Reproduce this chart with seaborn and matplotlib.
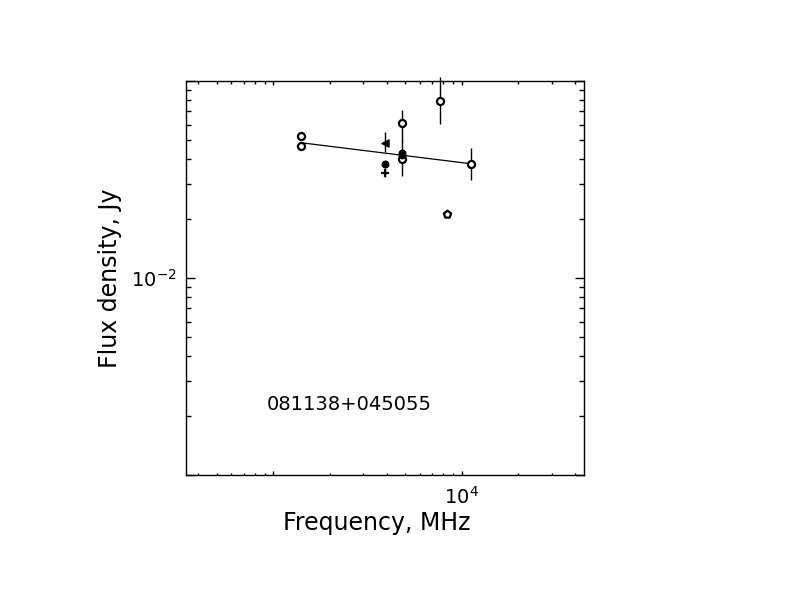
import numpy as np
import pandas as pd
import seaborn as sns
import matplotlib.pyplot as plt

# spectrum points
freq = [1400, 1400, 3900, 3900, 3900, 4850, 4850, 4850, 4850, 7700, 8400, 11200]
flux = [0.0526, 0.0469, 0.0484, 0.0377, 0.0342, 0.0610, 0.0429, 0.0419, 0.0401,
        0.0791, 0.0210, 0.0379]
kind = ["open", "open", "tri", "filled", "plus", "open", "filled", "filled", "open",
        "open", "pent", "open"]

# error bar bounds (NaN = no bar)
nan = np.nan
flux_lo = [nan, nan, 0.0436, nan, 0.0326, 0.0490, nan, 0.0330, nan, 0.0603, nan, 0.0314]
flux_hi = [nan, nan, 0.0551, nan, 0.0361, 0.0710, nan, 0.0500, nan, 0.1048, nan, 0.0459]

# fitted power law, end points
fit_freq = [1400, 11200]
fit_flux = [0.0486, 0.0380]

source_name = "081138+045055"

df = pd.DataFrame({"freq": freq, "flux": flux, "kind": kind,
                   "lo": flux_lo, "hi": flux_hi})
fit = pd.DataFrame({"freq": fit_freq, "flux": fit_flux})

sns.set_theme(style="white")
plt.rcParams["font.family"] = ["DejaVu Sans"]
plt.rcParams["text.color"] = "black"
plt.rcParams["axes.labelcolor"] = "black"
plt.rcParams["xtick.color"] = "black"
plt.rcParams["ytick.color"] = "black"

fig = plt.figure(figsize=(7.92, 6.12), dpi=100)
ax = fig.add_axes([0.2348, 0.2239, 0.5025, 0.6438])
ax.set_xscale("log")
ax.set_yscale("log")

# error bars first, no caps
bars = df.dropna(subset=["lo", "hi"])
yerr = np.vstack([bars["flux"] - bars["lo"], bars["hi"] - bars["flux"]])
ax.errorbar(bars["freq"], bars["flux"], yerr=yerr, fmt="none",
            ecolor="black", elinewidth=1.0, capsize=0, clip_on=False, zorder=2)

sns.lineplot(data=fit, x="freq", y="flux", color="black", linewidth=0.9,
             ax=ax, zorder=2)

styles = {
    "open": dict(marker="o", facecolor="white", edgecolor="black", s=26, linewidth=1.6),
    "filled": dict(marker="o", facecolor="black", edgecolor="black", s=22, linewidth=1.0),
    "tri": dict(marker="<", facecolor="black", edgecolor="black", s=26, linewidth=1.0),
    "plus": dict(marker="+", color="black", s=40, linewidth=1.6),
    "pent": dict(marker="p", facecolor="white", edgecolor="black", s=30, linewidth=1.6),
}
for k, st in styles.items():
    sub = df[df["kind"] == k]
    sns.scatterplot(data=sub, x="freq", y="flux", ax=ax, legend=False,
                    zorder=3, **st)

ax.set_xlim(344, 44600)
ax.set_ylim(1e-3, 1e-1)

ax.set_xticks([1e3, 1e4])
ax.set_xticklabels(["", "$10^{4}$"])
ax.set_yticks([1e-3, 1e-2, 1e-1])
ax.set_yticklabels(["", "$10^{-2}$", ""])

ax.tick_params(axis="x", which="major", direction="in", top=True, bottom=True,
               length=3.2, width=1.0, labelsize=14, pad=8)
ax.tick_params(axis="x", which="minor", direction="in", top=True, bottom=True,
               length=1.8, width=1.0)
ax.tick_params(axis="y", which="major", direction="in", left=True, right=True,
               length=6.5, width=1.0, labelsize=14, pad=7)
ax.tick_params(axis="y", which="minor", direction="in", left=True, right=True,
               length=3.4, width=1.0)

for sp in ax.spines.values():
    sp.set_color("black")
    sp.set_linewidth(1.0)

ax.set_xlabel("Frequency, MHz", fontsize=17)
ax.set_ylabel("Flux density, Jy", fontsize=17)
ax.xaxis.set_label_coords(0.48, -0.092)
ax.yaxis.set_label_coords(-0.16, 0.5)

ax.text(0.2027, 0.165, source_name, transform=ax.transAxes, fontsize=14,
        ha="left", va="baseline")

fig.savefig("out.png", dpi=100)
